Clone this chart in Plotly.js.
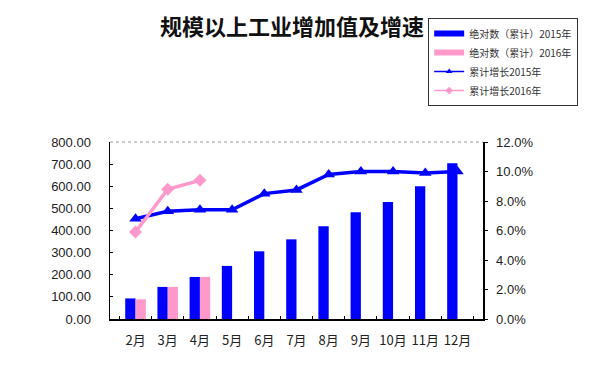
<!DOCTYPE html>
<html><head><meta charset="utf-8">
<script src="https://cdn.plot.ly/plotly-3.0.1.min.js"></script>
<style>html,body{margin:0;padding:0;background:#fff}#c{width:590px;height:371px}</style>
</head><body><div id="c"></div>
<script>
var months = ['2月','3月','4月','5月','6月','7月','8月','9月','10月','11月','12月'];
var abs2015 = [93, 145, 190, 240, 306, 360, 419, 483, 529, 600, 704];
var abs2016 = [89, 145, 190];
var growth2015 = [6.8, 7.3, 7.4, 7.4, 8.5, 8.75, 9.8, 10.0, 10.0, 9.9, 10.0];
var growth2016 = [5.9, 8.8, 9.4];
var leftTicks = [0,100,200,300,400,500,600,700,800];
var rightTicks = [0,2,4,6,8,10,12];

var blue = '#0000FF', pink = '#FF99CC';
var traces = [
  {type:'bar', x:months, y:abs2015, marker:{color:blue}, showlegend:false, yaxis:'y'},
  {type:'bar', x:months.slice(0,abs2016.length), y:abs2016, marker:{color:pink}, showlegend:false, yaxis:'y'},
  {type:'scatter', mode:'lines+markers', x:months, y:growth2015, yaxis:'y2', name:'累计增长2015年',
   line:{color:blue,width:3.5}, marker:{symbol:'triangle-up',size:11,color:blue}, showlegend:false},
  {type:'scatter', mode:'lines+markers', x:months.slice(0,growth2016.length), y:growth2016, yaxis:'y2', name:'累计增长2016年',
   line:{color:pink,width:3.5}, marker:{symbol:'diamond',size:10,color:pink}, showlegend:false},
  {type:'scatter', mode:'lines', x:[null], y:[null], name:'绝对数（累计）2015年', line:{color:blue,width:6}},
  {type:'scatter', mode:'lines', x:[null], y:[null], name:'绝对数（累计）2016年', line:{color:pink,width:6}},
  {type:'scatter', mode:'lines+markers', x:[null], y:[null], name:'累计增长2015年', line:{color:blue,width:1.5}, marker:{symbol:'triangle-up',size:6,color:blue}},
  {type:'scatter', mode:'lines+markers', x:[null], y:[null], name:'累计增长2016年', line:{color:pink,width:1.5}, marker:{symbol:'diamond',size:6,color:pink}}
];
var layout = {
  width:590, height:371,
  margin:{l:110, r:101, t:142, b:52},
  paper_bgcolor:'#fff', plot_bgcolor:'#fff',
  font:{family:'Arial, Liberation Sans, Noto Sans CJK SC', color:'#222', size:12},
  title:{text:'<b>规模以上工业增加值及增速</b>', x:0.495, xanchor:'center', y:0.927, yanchor:'middle',
         font:{family:'Noto Sans CJK SC', size:22, color:'#111'}},
  barmode:'group', bargap:0.36, bargroupgap:0,
  xaxis:{type:'category', showline:true, linecolor:'#000', linewidth:1.5, mirror:false, tickangle:0,
         ticks:'inside', tickson:'boundaries', ticklen:3, tickcolor:'#000', showgrid:false,
         tickfont:{size:13, family:'Noto Sans CJK SC', color:'#222'}, ticklabelstandoff:9},
  yaxis:{range:[0,800], tickvals:leftTicks, ticktext:leftTicks.map(function(v){return v.toFixed(2);}),
         showline:true, linecolor:'#000', linewidth:1.5, ticks:'inside', ticklen:3, tickcolor:'#000', showgrid:false, zeroline:false,
         tickfont:{size:13, color:'#222'}, ticklabelstandoff:15},
  yaxis2:{overlaying:'y', side:'right', range:[0,12], tickvals:rightTicks,
         ticktext:rightTicks.map(function(v){return v.toFixed(1)+'%';}),
         showline:true, linecolor:'#000', linewidth:1.5, ticks:'outside', ticklen:3, tickcolor:'#000', showgrid:false, zeroline:false,
         tickfont:{size:13, color:'#222'}, ticklabelstandoff:6},
  legend:{x:0.853, y:1.70, xanchor:'left', yanchor:'top', bordercolor:'#333', borderwidth:1,
          bgcolor:'#fff', font:{size:10, family:'Noto Sans CJK SC', color:'#333'}, tracegroupgap:0,
          itemwidth:30},
  shapes:[{type:'line', xref:'paper', yref:'paper', x0:0, x1:1, y0:1, y1:1, line:{color:'#999', width:1, dash:'dot'}}]
};
Plotly.newPlot('c', traces, layout, {displayModeBar:false, staticPlot:true});
</script></body></html>
